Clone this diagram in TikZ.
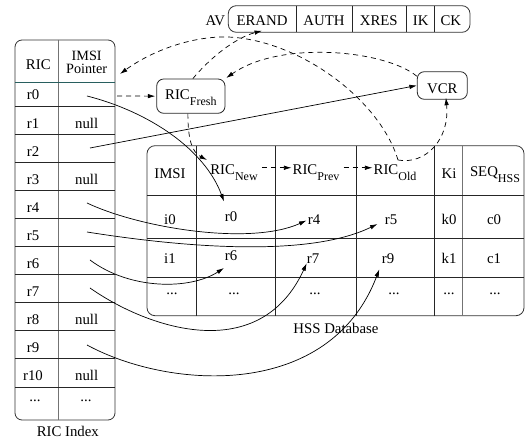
\documentclass[tikz,border=0pt]{standalone}
\usepackage{fontspec}
\setmainfont{Liberation Serif}
\usetikzlibrary{arrows.meta}
\newcommand\lowsub[1]{\raisebox{-6pt}{\fontsize{12}{12}\selectfont #1}}
\definecolor{hdrline}{RGB}{40,95,95}
\begin{document}
\begin{tikzpicture}[x=1pt,y=-1pt,
  every node/.style={font=\fontsize{14.8}{16}\selectfont, inner sep=0pt},
  txt/.style={anchor=base},
  frame/.style={line width=0.8pt, draw=black!80},
  sep/.style={line width=0.8pt, draw=black!85},
  lsep/.style={line width=0.8pt, draw=black!55},
  box/.style={draw=black!85, line width=0.8pt, rounded corners=7pt, anchor=base},
  arr/.style={line width=0.7pt, -{Latex[length=7.5pt,width=4.5pt]}},
  darr/.style={arr, dash pattern=on 5pt off 4pt}]
\useasboundingbox (0,0) rectangle (525,443);

% ---------- RIC index table ----------
\draw[frame, rounded corners=7pt] (15,40) rectangle (115,420);
\draw[lsep] (58.3,40) -- (58.3,420);
\draw[line width=0.8pt, draw=hdrline] (15,82.3) -- (115,82.3);
\foreach \k in {0,...,10} \draw[sep] (15,{106+28.1*\k}) -- (115,{106+28.1*\k});
\node[txt] (hric) at (38.3,70) {RIC};
\node[align=center, font=\fontsize{14.2}{13}\selectfont] (hptr) at (86.7,62.5) {IMSI\\Pointer};
\foreach \k in {0,...,10} \node[txt] (ric\k) at (33,{100+28.1*\k}) {r\k};
\foreach \k in {1,3,8,10} \node[txt] (null\k) at (86.7,{100+28.1*\k}) {null};
\node[txt] (ricdots) at (35,401.5) {...};
\node[txt] (ptrdots) at (86,401.5) {...};
\node[txt] (ricidx) at (67.8,437) {RIC Index};

% ---------- HSS database table ----------
\draw[frame, rounded corners=8pt] (147,145.7) rectangle (524,315.7);
\foreach \x in {196.7,275,356.7,434.7} \draw[sep] (\x,145.7) -- (\x,315.7);
\draw[lsep] (462.7,145.7) -- (462.7,315.7);
\foreach \y in {195.7,238.8,277} \draw[sep] (147,\y) -- (524,\y);
\node[txt] (himsi) at (170,179) {IMSI};
\node[txt] (hnew) at (234,175) {RIC\lowsub{New}};
\node[txt] (hprev) at (316,175) {RIC\lowsub{Prev}};
\node[txt] (hold) at (395,175) {RIC\lowsub{Old}};
\node[txt] (hki) at (449,178.3) {Ki};
\node[txt] (hseq) at (495,177) {SEQ\lowsub{HSS}};
\node[txt] (i0) at (170,225) {i0};
\node[txt] (n0) at (231,222) {r0};
\node[txt] (p4n) at (314,225) {r4};
\node[txt] (o5n) at (391,225) {r5};
\node[txt] (k0) at (449,225) {k0};
\node[txt] (c0) at (494,225) {c0};
\node[txt] (i1) at (170,263.5) {i1};
\node[txt] (n6) at (231,261) {r6};
\node[txt] (p7n) at (313,263.5) {r7};
\node[txt] (o9n) at (388,263.5) {r9};
\node[txt] (k1) at (449,263.5) {k1};
\node[txt] (c1) at (494,263.5) {c1};
\node[txt] (d1) at (172,295) {...};
\node[txt] (d2) at (234,295) {...};
\node[txt] (d3) at (315,295) {...};
\node[txt] (d4) at (394,295) {...};
\node[txt] (d5) at (449,295) {...};
\node[txt] (d6) at (495,295) {...};
\node[txt] (hssdb) at (336,334) {HSS Database};

% ---------- AV vector ----------
\draw[frame, rounded corners=8pt] (228.3,5.7) rectangle (470,32.3);
\foreach \x in {296,352.7,406.7,434} \draw[sep] (\x,5.7) -- (\x,32.3);
\node[txt] (av) at (215.3,25.5) {AV};
\node[txt, inner ysep=5pt] (erand) at (262,25.5) {ERAND};
\node[txt] (auth) at (324,25.5) {AUTH};
\node[txt] (xres) at (378.8,25.5) {XRES};
\node[txt] (ik) at (420.8,25.5) {IK};
\node[txt] (ck) at (450.8,25.5) {CK};

% ---------- RIC_Fresh and VCR ----------
\node[box, text height=21pt, text depth=13.3pt, minimum width=68.3pt] (fresh) at (190.85,100) {RIC\lowsub{Fresh}};
\node[box, text height=21.6pt, text depth=6pt, minimum width=50pt] (vcr) at (442.3,93.3) {VCR};

% ---------- connector end points ----------
\coordinate (p0) at (87,96);
\coordinate (p2) at (90,148);
\coordinate (p4) at (87,203);
\coordinate (p5) at (87,232);
\coordinate (p6) at (90,260);
\coordinate (p7) at (90,288);
\coordinate (p9) at (87,345);
\coordinate (t0) at (224,201.5);
\coordinate (t4) at (306.5,220.5);
\coordinate (t5) at (377.5,224);
\coordinate (t6) at (224,268);
\coordinate (t7) at (306.7,263.3);
\coordinate (t9) at (379.3,269.3);
\coordinate (ptr0) at (117,96);
\coordinate (t2) at (207,160);
\coordinate (oldtop) at (398,160);
\coordinate (ptrtip) at (120,74);

% ---------- solid connectors ----------
\draw[arr] (p0) .. controls (150,112) and (205,150) .. (t0);
\draw[arr] (p2) -- (vcr.west);
\draw[arr] (p4) .. controls (140,228) and (250,246) .. (t4);
\draw[arr] (p5) .. controls (150,242) and (300,262) .. (t5);
\draw[arr] (p6) .. controls (130,290) and (190,290) .. (t6);
\draw[arr] (p7) .. controls (150,330) and (260,365) .. (t7);
\draw[arr] (p9) .. controls (170,390) and (330,400) .. (t9);

% ---------- dashed connectors ----------
\draw[darr, shorten >=1pt] (ptr0) -- (fresh.west);
\draw[darr] ([xshift=-3pt]fresh.south) .. controls (188,140) and (192,152) .. (t2);
\draw[darr, shorten <=4pt, shorten >=1pt] ([yshift=5.4pt]hnew.east) -- ([yshift=5.4pt]hprev.west);
\draw[darr, shorten <=4pt, shorten >=1pt] ([yshift=5.4pt]hprev.east) -- ([yshift=5.4pt]hold.west);
\draw[darr] ([xshift=2pt]fresh.north) .. controls (210,58) and (235,38) .. (erand.south);
\draw[darr, shorten >=1pt] (vcr.160) .. controls (385,50) and (280,40) .. (fresh.north east);
\draw[darr] (oldtop) .. controls (380,100) and (300,40) .. (228,37) .. controls (190,36) and (150,52) .. (ptrtip);
\draw[darr, shorten >=-2pt] (oldtop) .. controls (425,165) and (450,140) .. (vcr.-75);
\end{tikzpicture}
\end{document}
